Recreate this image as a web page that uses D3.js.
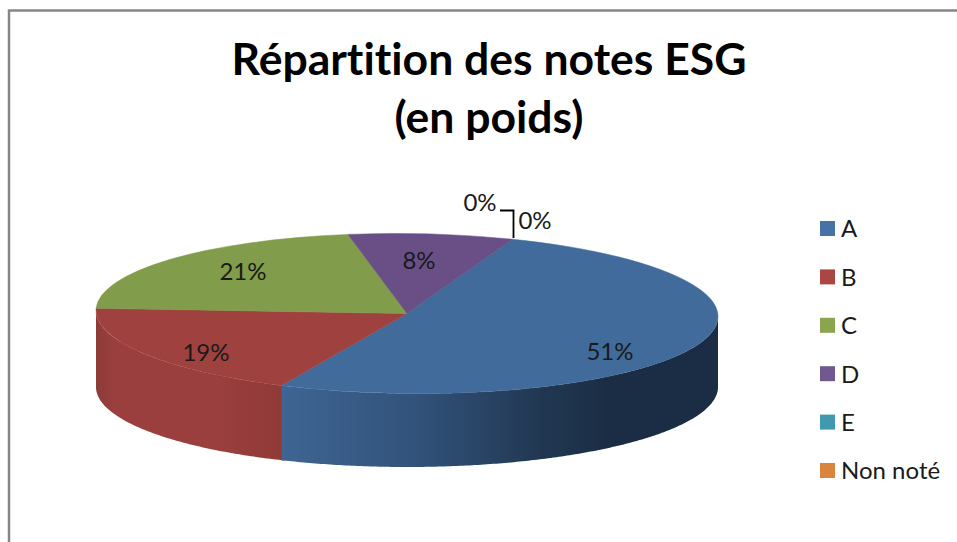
<!DOCTYPE html>
<html lang="fr">
<head>
  <meta charset="UTF-8">
  <title>Répartition des notes ESG</title>
  <style>
    html, body { margin: 0; padding: 0; background: #fff; overflow: hidden; }
    svg { display: block; }
    text { font-family: Lato, "Open Sans", sans-serif; fill: #1a1a1a; font-variant-ligatures: none; }
  </style>
</head>
<body>
  <svg id="svg" width="957" height="542"></svg>

  <script src="https://d3js.org/d3.v7.min.js"></script>
  <script>
    const categories = ['A', 'B', 'C', 'D', 'E', 'Non noté']
    // shares, the labels show them rounded
    const shares = [50.8, 18.7, 21.4, 8.49, 0, 0]
    const labels = ['51%', '19%', '21%', '8%', '0%', '0%']
    const colors = ['#4572a7', '#aa4643', '#89a54e', '#71588f', '#4198af', '#db843d']
    const faceColors = ['#416b9b', '#9f413f', '#819c4a', '#6a4f86', '#4198af', '#db843d']
    const titleLines = ['Répartition des notes ESG', '(en poids)']

    const width = 957, height = 542
    const cx = 407, cy = 313.5, rx = 311, ry = 80, depth = 73.5
    const tilt = 0.55
    const slope = Math.tan(tilt * Math.PI / 180)
    const startAngle = 19.8 * Math.PI / 180

    const svg = d3.select('#svg')

    // frame, only top and left are in the crop
    svg.append('path')
      .attr('d', d3.line()([[9, height], [9, 10.5], [width, 10.5]]))
      .attr('fill', 'none')
      .attr('stroke', '#868686')
      .attr('stroke-width', 2.5)

    svg.selectAll('text.title')
      .data(titleLines)
      .enter()
      .append('text')
      .attr('class', 'title')
      .attr('x', 489)
      .attr('y', (d, i) => 75 + i * 58)
      .attr('text-anchor', 'middle')
      .attr('font-size', 44.5)
      .attr('font-weight', 700)
      .style('fill', '#000')
      .text(d => d)

    const pie = d3.pie()
      .sort(null)
      .startAngle(startAngle)
      .endAngle(startAngle + 2 * Math.PI)
    const slices = pie(shares)

    const defs = svg.append('defs')
    const gradients = [
      { id: 'wallA', stops: [[0, '#3e6593'], [0.3, '#32537b'], [0.6, '#213751'], [0.75, '#1b2d45'], [1, '#1b2d45']] },
      { id: 'wallB', stops: [[0, '#8c3b39'], [0.1, '#9a3f3d'], [0.65, '#9a3f3d'], [1, '#903a38']] }
    ]
    const xWall = d3.scaleLinear().domain([-1, 1]).range([cx - rx, cx + rx])
    const yWall = d3.scaleLinear().domain([-1, 1]).range([cy + ry, cy - ry])

    // the top rim leans a little, the bottom rim stays level
    const wallPath = (a0, a1) => {
      const angles = d3.range(a0, a1, 0.01).concat([a1])
      const top = angles.map(a => {
        const x = xWall(Math.sin(a))
        return [x, yWall(Math.cos(a)) + (x - cx) * slope]
      })
      const bottom = angles.map(a => [xWall(Math.sin(a)), yWall(Math.cos(a)) + depth]).reverse()
      return d3.line()(top.concat(bottom)) + 'Z'
    }

    // side wall, only the front half of the disc shows. Red first so blue covers the seam
    const front = [Math.PI / 2, 3 * Math.PI / 2]
    slices.slice().reverse().forEach(s => {
      const a0 = Math.max(s.startAngle, front[0])
      const a1 = Math.min(s.endAngle, front[1])
      if (a1 <= a0) return
      const g = gradients[s.index]
      const x0 = xWall(Math.sin(a1)), x1 = xWall(Math.sin(a0))
      const lg = defs.append('linearGradient')
        .attr('id', g.id)
        .attr('gradientUnits', 'userSpaceOnUse')
        .attr('x1', x0).attr('x2', x1).attr('y1', 0).attr('y2', 0)
      lg.selectAll('stop')
        .data(g.stops)
        .enter()
        .append('stop')
        .attr('offset', d => d[0])
        .attr('stop-color', d => d[1])
      // red runs a touch under the blue wall
      svg.append('path')
        .attr('d', wallPath(s.index === 1 ? a0 - 0.01 : a0, a1))
        .attr('fill', `url(#${g.id})`)
    })

    // top face: a pie squashed to an ellipse, sheared to match the rim
    const arc = d3.arc().innerRadius(0).outerRadius(rx)
    svg.append('g')
      .attr('transform', `translate(${cx},${cy}) skewY(${tilt}) scale(1,${ry / rx})`)
      .selectAll('path')
      .data(slices.filter(d => d.value > 0))
      .enter()
      .append('path')
      .attr('d', arc)
      .attr('fill', d => faceColors[d.index])
      .attr('stroke', d => faceColors[d.index])
      .attr('stroke-width', 0.8)

    // leader line for the D/E label
    svg.append('path')
      .attr('d', d3.line()([[513.5, 238], [513.5, 210.5], [500, 210.5]]))
      .attr('fill', 'none')
      .attr('stroke', '#000')
      .attr('stroke-width', 1.8)

    const labelAnchors = [[610, 352], [206, 353], [243, 272], [419, 261], [480, 203], [535, 221]]
    svg.selectAll('text.label')
      .data(labels)
      .enter()
      .append('text')
      .attr('class', 'label')
      .attr('x', (d, i) => labelAnchors[i][0])
      .attr('y', (d, i) => labelAnchors[i][1])
      .attr('dy', '0.35em')
      .attr('text-anchor', 'middle')
      .attr('font-size', 24)
      .text(d => d)

    // legend
    const yLegend = d3.scalePoint().domain(categories).range([229, 471])
    const legend = svg.selectAll('g.legend')
      .data(categories)
      .enter()
      .append('g')
      .attr('class', 'legend')
      .attr('transform', d => `translate(820,${yLegend(d)})`)
    legend.append('rect')
      .attr('x', 0).attr('y', -8)
      .attr('width', 15).attr('height', 15)
      .attr('fill', (d, i) => colors[i])
    legend.append('text')
      .attr('x', 21)
      .attr('dy', '0.35em')
      .attr('font-size', 24)
      .text(d => d)
  </script>
</body>
</html>
